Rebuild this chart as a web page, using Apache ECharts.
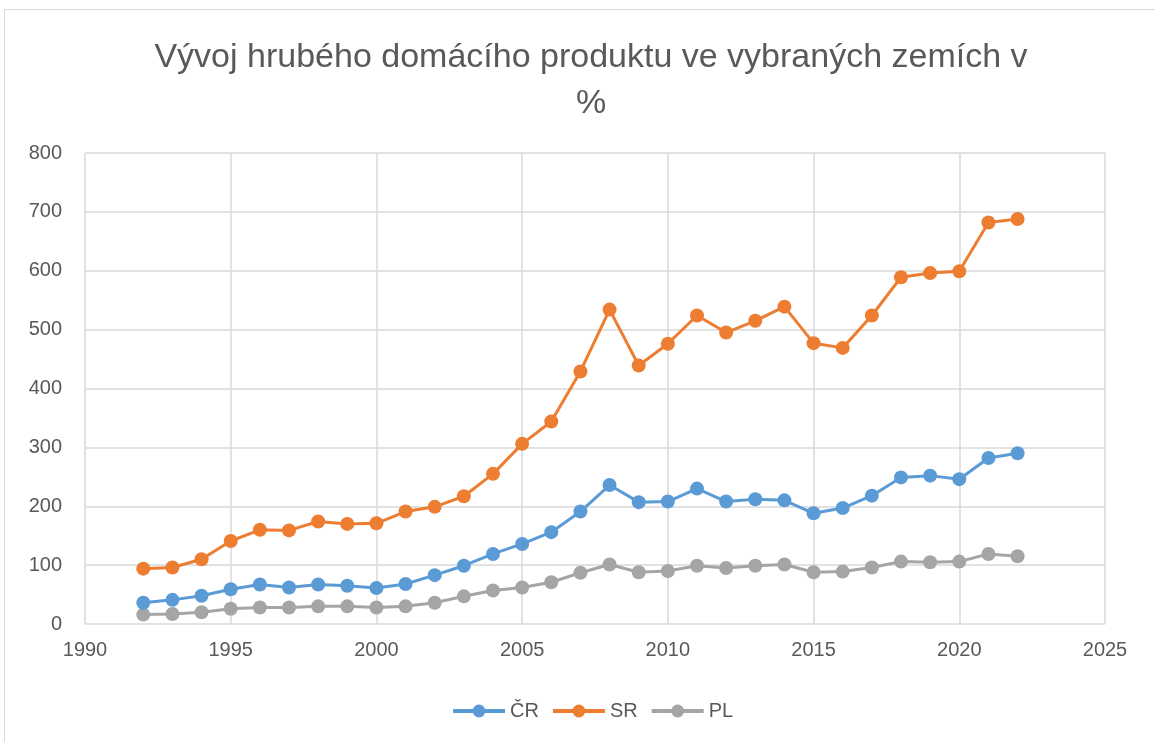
<!DOCTYPE html>
<html>
<head>
<meta charset="utf-8">
<script src="https://cdn.jsdelivr.net/npm/echarts@6/dist/echarts.min.js"></script>
<style>
  html, body { margin: 0; padding: 0; background: #fff; }
  #chart { width: 1155px; height: 742px; }
</style>
</head>
<body>
<div id="chart"></div>
<script>
  // roky
  var years = [1992, 1993, 1994, 1995, 1996, 1997, 1998, 1999, 2000, 2001, 2002,
    2003, 2004, 2005, 2006, 2007, 2008, 2009, 2010, 2011, 2012, 2013, 2014,
    2015, 2016, 2017, 2018, 2019, 2020, 2021, 2022];

  var cr = [36, 41, 48, 59, 67, 62, 67, 65, 61, 68, 83, 99, 119, 136, 156, 191,
    236, 207, 208, 230, 208, 212, 210, 188, 197, 218, 249, 252, 246, 282, 290];
  var sr = [94, 96, 110, 141, 160, 159, 174, 170, 171, 191, 199, 217, 255, 306,
    344, 429, 534, 439, 476, 524, 495, 515, 539, 477, 469, 524, 589, 596, 599, 682, 688];
  var pl = [16, 17, 20, 26, 28, 28, 30, 30, 28, 30, 36, 47, 57, 62, 71, 87, 101,
    88, 90, 99, 95, 99, 101, 88, 89, 96, 106, 105, 106, 119, 115];

  var seriesNames = ['ČR', 'SR', 'PL'];
  var colors = ['#5B9BD5', '#ED7D31', '#A5A5A5'];

  function pairs(vals) {
    return years.map(function (y, i) { return [y, vals[i]]; });
  }

  var font = 'Liberation Sans, Arial, sans-serif';
  var chart = echarts.init(document.getElementById('chart'));

  var series = [cr, sr, pl].map(function (vals, i) {
    return {
      name: seriesNames[i],
      type: 'line',
      data: pairs(vals),
      symbol: 'circle',
      symbolSize: 14,
      lineStyle: { width: 3, color: colors[i] },
      itemStyle: { color: colors[i] },
      z: 3 - i
    };
  });

  chart.setOption({
    animation: false,
    color: colors,
    graphic: [{
      type: 'rect',
      shape: { x: 4.5, y: 9.5, width: 1160, height: 740 },
      style: { fill: 'none', stroke: '#D9D9D9', lineWidth: 1 }
    }],
    title: {
      text: 'Vývoj hrubého domácího produktu ve vybraných zemích v\n%',
      left: 586,
      textAlign: 'center',
      top: 30,
      textStyle: {
        fontFamily: font,
        fontWeight: 'normal',
        fontSize: 34,
        color: '#595959',
        lineHeight: 46
      }
    },
    legend: {
      bottom: 16,
      left: 446,
      itemWidth: 52,
      itemHeight: 16,
      itemGap: 12,
      lineStyle: { width: 4 },
      textStyle: { fontFamily: font, fontSize: 20, color: '#595959' },
      data: seriesNames
    },
    grid: { left: 85, right: 50, top: 153, bottom: 118, containLabel: false },
    xAxis: {
      type: 'value',
      min: 1990,
      max: 2025,
      interval: 5,
      axisLine: { show: false },
      axisTick: { show: false },
      axisLabel: {
        fontFamily: font, fontSize: 20, color: '#595959', margin: 16,
        formatter: function (v) { return String(v); }
      },
      splitLine: { show: true, lineStyle: { color: '#D9D9D9', width: 1.5 } }
    },
    yAxis: {
      type: 'value',
      min: 0,
      max: 800,
      interval: 100,
      axisLine: { show: false },
      axisTick: { show: false },
      axisLabel: { fontFamily: font, fontSize: 20, color: '#595959', margin: 23 },
      splitLine: { show: true, lineStyle: { color: '#D9D9D9', width: 1.5 } }
    },
    series: series
  });
</script>
</body>
</html>
